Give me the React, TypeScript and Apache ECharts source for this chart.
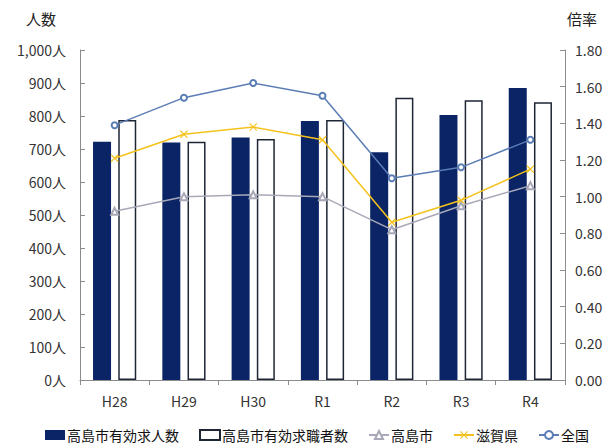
import React, { useEffect, useRef } from "react";
import * as echarts from "echarts";

const categories = ["H28", "H29", "H30", "R1", "R2", "R3", "R4"];
const jobOffers = [722, 720, 735, 785, 690, 803, 885];
const jobSeekers = [788, 722, 730, 788, 855, 848, 842];
const takashimaRatio = [0.92, 1.0, 1.01, 1.0, 0.82, 0.95, 1.06];
const shigaRatio = [1.21, 1.34, 1.38, 1.31, 0.86, 0.98, 1.15];
const nationalRatio = [1.39, 1.54, 1.62, 1.55, 1.1, 1.16, 1.31];

const seriesNames = ["高島市有効求人数", "高島市有効求職者数", "高島市", "滋賀県", "全国"];

const FONT = "'Noto Sans CJK JP', 'Noto Sans', sans-serif";
const xSymbol = "path://M0,1L1,0L5,4L9,0L10,1L6,5L10,9L9,10L5,6L1,10L0,9L4,5Z";

export default function App() {
  const ref = useRef<HTMLDivElement>(null);
  useEffect(() => {
    if (!ref.current) return;
    const chart = echarts.init(ref.current, undefined, { renderer: "svg" });
    const axisLine = { show: true, lineStyle: { color: "#8c8c8c", width: 1 } };
    chart.setOption({
      animation: false,
      textStyle: { fontFamily: FONT },
      grid: { left: 80, right: 46, top: 50, bottom: 65 },
      legend: {
        bottom: -2,
        left: 40,
        itemGap: 20,
        itemWidth: 20,
        itemHeight: 10,
        textStyle: { fontSize: 14, color: "#111", fontFamily: FONT, padding: [0, 0, 0, -3] },
        data: [
          { name: seriesNames[0], icon: "rect" },
          { name: seriesNames[1], icon: "rect" },
          seriesNames[2],
          seriesNames[3],
          seriesNames[4],
        ],
      },
      xAxis: {
        type: "category",
        data: categories,
        axisLine,
        axisTick: { show: true, inside: false, length: 5, lineStyle: { color: "#8c8c8c" } },
        axisLabel: { fontSize: 14, color: "#333", margin: 14, fontFamily: FONT },
      },
      yAxis: [
        {
          type: "value",
          min: 0,
          max: 1000,
          interval: 100,
          name: "人数",
          nameLocation: "end",
          nameGap: 24,
          nameTextStyle: { fontSize: 15, color: "#222", align: "right", padding: [0, 24, 0, 0], fontFamily: FONT },
          axisLine,
          axisTick: { show: true, inside: true, length: 5, lineStyle: { color: "#8c8c8c" } },
          splitLine: { show: false },
          axisLabel: {
            fontSize: 14,
            color: "#333",
            margin: 14,
            fontFamily: FONT,
            formatter: (v: number) => v.toLocaleString("en-US") + "人",
          },
        },
        {
          type: "value",
          min: 0,
          max: 1.8,
          interval: 0.2,
          name: "倍率",
          nameLocation: "end",
          nameGap: 24,
          nameTextStyle: { fontSize: 15, color: "#222", align: "left", padding: [0, 0, 0, 2], fontFamily: FONT },
          axisLine,
          axisTick: { show: true, inside: true, length: 5, lineStyle: { color: "#8c8c8c" } },
          splitLine: { show: false },
          axisLabel: {
            fontSize: 14,
            color: "#333",
            margin: 10,
            fontFamily: FONT,
            formatter: (v: number) => v.toFixed(2),
          },
        },
      ],
      series: [
        {
          name: seriesNames[0],
          type: "bar",
          data: jobOffers,
          barWidth: 18,
          barGap: "40%",
          itemStyle: { color: "#0a2466" },
        },
        {
          name: seriesNames[1],
          type: "bar",
          data: jobSeekers,
          barWidth: 18,
          itemStyle: { color: "#ffffff", borderColor: "#1e2635", borderWidth: 1.5 },
        },
        {
          name: seriesNames[2],
          type: "line",
          yAxisIndex: 1,
          data: takashimaRatio,
          symbol: "emptyTriangle",
          symbolSize: 7,
          lineStyle: { color: "#a8a8b8", width: 1.5 },
          itemStyle: { color: "#a8a8b8" },
        },
        {
          name: seriesNames[3],
          type: "line",
          yAxisIndex: 1,
          data: shigaRatio,
          symbol: xSymbol,
          symbolSize: 8,
          lineStyle: { color: "#f5c21b", width: 1.5 },
          itemStyle: { color: "#f5c21b" },
        },
        {
          name: seriesNames[4],
          type: "line",
          yAxisIndex: 1,
          data: nationalRatio,
          symbol: "emptyCircle",
          symbolSize: 6,
          lineStyle: { color: "#5b7db5", width: 1.5 },
          itemStyle: { color: "#5b7db5" },
        },
      ],
    });
    return () => chart.dispose();
  }, []);
  return (
    <div
      ref={ref}
      style={{ position: "absolute", left: 0, top: 0, width: 611, height: 445 }}
    />
  );
}
